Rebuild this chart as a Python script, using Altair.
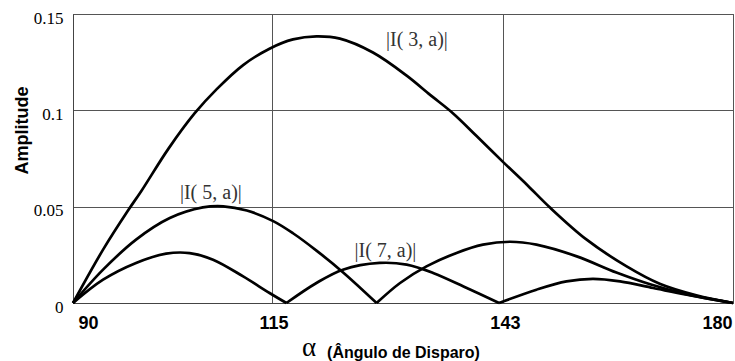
import altair as alt
import pandas as pd

# Harmonic amplitudes versus firing angle, one list pair per lobe of each curve
I3_ANGLE = [90, 94.1, 97.5, 99.3, 103.0, 106.6, 109.6, 113.2, 116.8, 120.0, 123.2, 126.4,
            130.9, 135.5, 138.7, 141.8, 145.0, 148.7, 152.0, 155.0, 160.0, 165.5, 170.0, 175.0, 180]
I3_AMP = [0, 0.0277, 0.0480, 0.0580, 0.0800, 0.0985, 0.1110, 0.1235, 0.1320, 0.1368, 0.1384, 0.1372,
          0.1300, 0.1180, 0.1080, 0.0985, 0.0868, 0.0730, 0.0610, 0.0497, 0.0330, 0.0190, 0.0100, 0.0040, 0]

I5_ANGLE_A = [90, 94.1, 98.6, 103.2, 107.7, 110.5, 113.7, 117.3, 120.0, 123.2, 126.8, 131.4]
I5_AMP_A = [0, 0.0173, 0.0329, 0.0441, 0.0496, 0.0502, 0.0480, 0.0425, 0.0362, 0.0272, 0.0160, 0]
I5_ANGLE_B = [131.4, 134.6, 138.2, 142.3, 145.9, 149.6, 153.2, 158.7, 164.1, 168.7, 173.2, 180]
I5_AMP_B = [0, 0.0104, 0.0190, 0.0260, 0.0303, 0.0318, 0.0303, 0.0242, 0.0158, 0.0097, 0.0050, 0]

I7_ANGLE_A = [90, 94.1, 98.6, 102.7, 105.9, 109.1, 113.2, 116.8, 119.1]
I7_AMP_A = [0, 0.0121, 0.0208, 0.0256, 0.0259, 0.0225, 0.0138, 0.0052, 0]
I7_ANGLE_B = [119.1, 123.2, 126.8, 131.8, 135.5, 139.1, 143.7, 148.1]
I7_AMP_B = [0, 0.0104, 0.0173, 0.0208, 0.0199, 0.0156, 0.0078, 0]
I7_ANGLE_C = [148.1, 153.2, 157.3, 160.9, 164.6, 169.1, 173.7, 180]
I7_AMP_C = [0, 0.0069, 0.0112, 0.0125, 0.0112, 0.0078, 0.0043, 0]

# Curve labels
LABEL_TEXT = ["|I( 3, a)|", "|I( 5, a)|", "|I( 7, a)|"]
LABEL_ANGLE = [136.9, 108.8, 132.6]
LABEL_AMP = [0.1367, 0.0571, 0.0268]

# Axis ticks
X_TICKS = [90, 117.07, 148.62, 180]
X_TICK_LABELS = ["90", "115", "143", "180"]
Y_TICKS = [0, 0.05, 0.1, 0.15]

segments = [
    ("I3", I3_ANGLE, I3_AMP),
    ("I5a", I5_ANGLE_A, I5_AMP_A),
    ("I5b", I5_ANGLE_B, I5_AMP_B),
    ("I7a", I7_ANGLE_A, I7_AMP_A),
    ("I7b", I7_ANGLE_B, I7_AMP_B),
    ("I7c", I7_ANGLE_C, I7_AMP_C),
]
rows = []
for name, xs, ys in segments:
    for i, (x, y) in enumerate(zip(xs, ys)):
        rows.append({"seg": name, "order": i, "angle": x, "amp": y})
curves = pd.DataFrame(rows)
labels = pd.DataFrame({"text": LABEL_TEXT, "angle": LABEL_ANGLE, "amp": LABEL_AMP})

tick_list = "[" + ",".join(str(v) for v in X_TICKS) + "]"
label_list = "[" + ",".join("'" + s + "'" for s in X_TICK_LABELS) + "]"
x_label_expr = f"{label_list}[indexof({tick_list}, datum.value)]"

x_scale = alt.Scale(domain=[90, 180], nice=False, zero=False)
y_scale = alt.Scale(domain=[0, 0.15], nice=False)

x_axis = alt.Axis(
    values=X_TICKS, labelExpr=x_label_expr, title="(Ângulo de Disparo)",
    labelFont="Liberation Sans", labelFontWeight="bold", labelFontSize=18, labelColor="#000",
    labelFlush=True, labelFlushOffset=-3, labelPadding=11, labelOffset=2,
    titleFont="Liberation Sans", titleFontWeight="bold", titleFontSize=16, titleColor="#000",
    titleY=49, titleBaseline="middle",
    ticks=False, grid=True, gridColor="#555", gridWidth=1,
    domainColor="#444", domainWidth=1,
)
y_axis = alt.Axis(
    values=Y_TICKS, format="~g", title="Amplitude",
    labelFont="Liberation Serif", labelFontSize=17, labelColor="#000",
    labelPadding=10, labelBaseline="middle", labelOffset=4,
    titleFont="Liberation Sans", titleFontWeight="bold", titleFontSize=18, titleColor="#000",
    titleY=116, titleX=-42,
    ticks=False, grid=True, gridColor="#555", gridWidth=1,
    domainColor="#444", domainWidth=1,
)

lines = alt.Chart(curves).mark_line(color="black", strokeWidth=2.7, interpolate="catmull-rom").encode(
    x=alt.X("angle:Q", scale=x_scale, axis=x_axis),
    y=alt.Y("amp:Q", scale=y_scale, axis=y_axis),
    detail="seg:N",
    order="order:Q",
)

text = alt.Chart(labels).mark_text(
    font="Liberation Serif", fontSize=20, color="#333", baseline="middle", align="center"
).encode(
    x=alt.X("angle:Q", scale=x_scale),
    y=alt.Y("amp:Q", scale=y_scale),
    text="text:N",
)

# Greek alpha preceding the x-axis title
alpha = alt.Chart(pd.DataFrame({"t": ["α"]})).mark_text(
    font="Liberation Serif", fontSize=27, color="#000", baseline="alphabetic", align="center"
).encode(
    x=alt.value(236), y=alt.value(342), text="t:N"
)

chart = alt.layer(lines, text, alpha).properties(
    width=660, height=289,
    autosize=alt.AutoSizeParams(type="none"),
    padding={"left": 73, "top": 14, "right": 2, "bottom": 58},
    background="white",
).configure_view(stroke="#444", strokeWidth=1)

chart.save("out.html", embed_options={"renderer": "svg", "actions": False})
